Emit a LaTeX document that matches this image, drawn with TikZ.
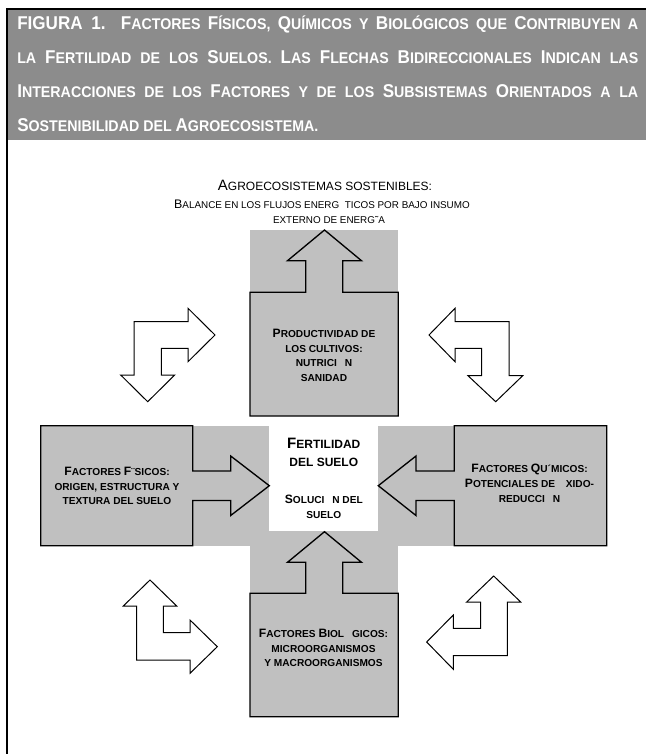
\documentclass[tikz,border=0pt]{standalone}
\usepackage{fontspec}
\setmainfont{Liberation Sans}
\newfontfamily\hdrfont{Liberation Sans}[FakeStretch=0.92]
\definecolor{hdrgrey}{RGB}{140,140,140}
\definecolor{boxgrey}{RGB}{192,192,192}
\newcommand\hbig[1]{{\fontsize{13.9}{13.9}\selectfont #1}}
\newcommand\tbig[1]{{\fontsize{11.25}{11.25}\selectfont #1}}
\newcommand\sbig[1]{{\fontsize{9.3}{9.3}\selectfont #1}}
\newcommand\bbig[1]{{\fontsize{9.1}{9.1}\selectfont #1}}
\newcommand\cbig[1]{{\fontsize{11.3}{11.3}\selectfont #1}}
\tikzset{
  hdr/.style={inner sep=0pt, text=white, font=\hdrfont\bfseries\fontsize{11.6}{11.6}\selectfont},
  ttl/.style={inner sep=0pt, font=\fontsize{9}{9}\selectfont},
  sub/.style={inner sep=0pt, font=\fontsize{7.4}{7.4}\selectfont},
  boxtxt/.style={inner sep=0pt, align=center, font=\bfseries\fontsize{7.6}{10.9}\selectfont},
  cttxt/.style={inner sep=0pt, align=center, font=\bfseries\fontsize{9}{14}\selectfont},
  shp/.style={draw=black, fill=boxgrey, line width=1pt, line join=miter},
  larr/.style={draw=black, fill=white, line width=0.75pt, line join=miter},
  bg/.style={fill=boxgrey}
}
\begin{document}
\begin{tikzpicture}[x=0.75pt,y=-0.75pt]
\useasboundingbox (0,0) rectangle (646,754);
% header band and frame
\fill[hdrgrey] (8,10) rectangle (646,139.5);
\draw[line width=1.9pt] (7,754) -- (7,9) -- (646,9);
\node[hdr, anchor=base west] (h1) at (17,29.5) {\makebox[465.75pt][s]{\hbig{FIGURA 1.} \hbig{F}ACTORES \hbig{F}ÍSICOS, \hbig{Q}UÍMICOS Y \hbig{B}IOLÓGICOS QUE \hbig{C}ONTRIBUYEN A}};
\node[hdr, anchor=base west] (h2) at (17,63.5) {\makebox[465.75pt][s]{LA \hbig{F}ERTILIDAD DE LOS \hbig{S}UELOS. \hbig{L}AS \hbig{F}LECHAS \hbig{B}IDIRECCIONALES \hbig{I}NDICAN LAS}};
\node[hdr, anchor=base west] (h3) at (17,97.5) {\makebox[465.75pt][s]{\hbig{I}NTERACCIONES DE LOS \hbig{F}ACTORES Y DE LOS \hbig{S}UBSISTEMAS \hbig{O}RIENTADOS A LA}};
\node[hdr, anchor=base west] (h4) at (17,131.5) {\hbig{S}OSTENIBILIDAD DEL \hbig{A}GROECOSISTEMA.};
% title
\node[ttl, anchor=base] (t1) at (325,190) {\tbig{A}GROECOSISTEMAS SOSTENIBLES:};
\node[sub, anchor=base] (t2) at (322,208) {\sbig{B}ALANCE EN LOS FLUJOS ENERG\phantom{I}\ TICOS POR BAJO INSUMO};
\node[sub, anchor=base] (t3) at (329,223) {EXTERNO DE ENERG˜A};
% grey background
\path[bg] (250,230) rectangle (398.3,292.3);
\path[bg] (40.7,425.7) rectangle (606.7,545.7);
\path[bg] (250,545) rectangle (398.3,594);
\path[fill=white] (269.3,426) rectangle (378.3,530.7);
% boxes with block arrows
\draw[shp] (250,292.3) -- (305.7,292.3) -- (305.7,260.7) -- (287.5,260.7) -- (324.5,230) -- (361.5,260.7) -- (342.7,260.7) -- (342.7,292.3) -- (398.3,292.3) -- (398.3,416) -- (250,416) -- cycle;
\draw[shp] (40.7,425.7) -- (192.7,425.7) -- (192.7,471) -- (230.7,471) -- (230.7,456) -- (269.3,485.7) -- (230.7,515.5) -- (230.7,500.5) -- (192.7,500.5) -- (192.7,545.7) -- (40.7,545.7) -- cycle;
\draw[shp] (606.7,425.7) -- (454.3,425.7) -- (454.3,471) -- (416,471) -- (416,456) -- (378.3,485.7) -- (416,515.5) -- (416,500.5) -- (454.3,500.5) -- (454.3,545.7) -- (606.7,545.7) -- cycle;
\draw[shp] (250,593.3) -- (305.7,593.3) -- (305.7,562.3) -- (287.5,562.3) -- (324.5,531.7) -- (361.5,562.3) -- (342.7,562.3) -- (342.7,593.3) -- (398.3,593.3) -- (398.3,716.7) -- (250,716.7) -- cycle;
% L-shaped bidirectional arrows
\draw[larr] (134,321.7) -- (188,321.7) -- (188,308.3) -- (215,335) -- (188,361.7) -- (188,348.3) -- (161.3,348.3) -- (161.3,375) -- (174.7,375) -- (147.7,401.7) -- (120.7,375) -- (134,375) -- cycle;
\draw[larr] (509,321.7) -- (455,321.7) -- (455,308.3) -- (429,335) -- (455,361.7) -- (455,348.3) -- (481.7,348.3) -- (481.7,375.7) -- (468,375.7) -- (495.7,401.7) -- (522.7,375.7) -- (509,375.7) -- cycle;
\draw[larr] (150,580) -- (176.7,606) -- (163.3,606) -- (163.3,632.7) -- (190,632.7) -- (190,620) -- (217.3,646.7) -- (190,673.3) -- (190,660) -- (136.7,660) -- (136.7,606) -- (123.3,606) -- cycle;
\draw[larr] (493.7,576) -- (520.7,602) -- (507.3,602) -- (507.3,655.7) -- (453.3,655.7) -- (453.3,669.3) -- (426.7,642) -- (453.3,615) -- (453.3,628.3) -- (480.7,628.3) -- (480.7,602) -- (466.7,602) -- cycle;
% texts
\node[boxtxt] (prod) at (324,355.5) {\bbig{P}RODUCTIVIDAD DE\\LOS CULTIVOS:\\NUTRICI\phantom{O}N\\SANIDAD};
\node[boxtxt] (fis) at (117,486) {\bbig{F}ACTORES \bbig{F}¨SICOS:\\ORIGEN, ESTRUCTURA Y\\TEXTURA DEL SUELO};
\node[boxtxt] (qui) at (529.5,483.3) {\bbig{F}ACTORES \bbig{Q}U´MICOS:\\\bbig{P}OTENCIALES DE \phantom{O}XIDO-\\REDUCCI\phantom{O}N};
\node[boxtxt] (bio) at (323.5,648) {\bbig{F}ACTORES \bbig{B}IOL\phantom{O}GICOS:\\MICROORGANISMOS\\Y MACROORGANISMOS};
\node[cttxt] (fert) at (323.8,452.3) {\cbig{F}ERTILIDAD\\DEL SUELO};
\node[boxtxt] (sol) at (323.8,506.7) {\bbig{S}OLUCI\phantom{O}N DEL\\SUELO};
\end{tikzpicture}
\end{document}
